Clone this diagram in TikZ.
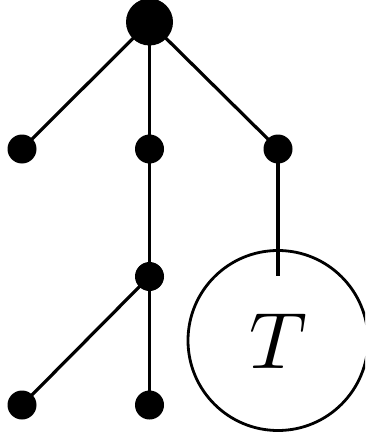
\documentclass[tikz,border=0pt]{standalone}
\usepackage{graphicx}
\begin{document}
\begin{tikzpicture}[x=1pt,y=-1pt,
  dot/.style={circle,fill=black,inner sep=0pt,minimum size=29pt},
  bigdot/.style={circle,fill=black,inner sep=0pt,minimum size=47pt},
  edge/.style={line width=3.2pt}]
\useasboundingbox (0,0) rectangle (365,441);
\begin{scope}
\clip (0,0) rectangle (365,441);
\coordinate (r) at (149.5,22);
\coordinate (a) at (22,149);
\coordinate (b) at (149.5,149);
\coordinate (c) at (278,149);
\coordinate (d) at (149.5,276.5);
\coordinate (e) at (22,405);
\coordinate (f) at (149.5,405);
\coordinate (tend) at (278,276);
\draw[edge] (r) -- (a);
\draw[edge] (r) -- (b);
\draw[edge] (r) -- (c);
\draw[edge] (b) -- (d);
\draw[edge] (d) -- (e);
\draw[edge] (d) -- (f);
\draw[edge] (c) -- (tend);
\node[bigdot] (R) at (r) {};
\node[dot] (A) at (a) {};
\node[dot] (B) at (b) {};
\node[dot] (C) at (c) {};
\node[dot] (D) at (d) {};
\node[dot] (E) at (e) {};
\node[dot] (F) at (f) {};
\draw[line width=2.8pt] (278,340.5) circle[radius=90];
\node[inner sep=0pt] (T) at (278,341) {\scalebox{8}{$T$}};
\end{scope}
\end{tikzpicture}
\end{document}
